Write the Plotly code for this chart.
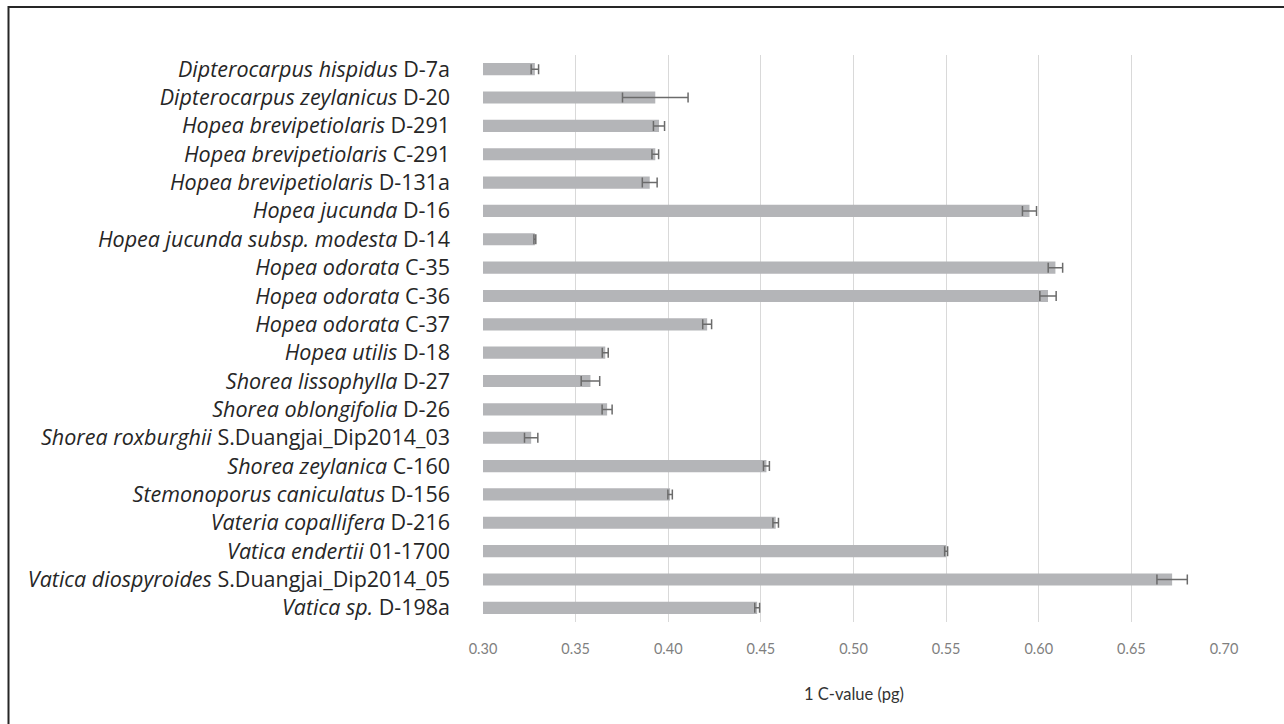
import plotly.graph_objects as go

species = [
    "Dipterocarpus hispidus", "Dipterocarpus zeylanicus", "Hopea brevipetiolaris",
    "Hopea brevipetiolaris", "Hopea brevipetiolaris", "Hopea jucunda",
    "Hopea jucunda subsp. modesta", "Hopea odorata", "Hopea odorata", "Hopea odorata",
    "Hopea utilis", "Shorea lissophylla", "Shorea oblongifolia", "Shorea roxburghii",
    "Shorea zeylanica", "Stemonoporus caniculatus", "Vateria copallifera",
    "Vatica endertii", "Vatica diospyroides", "Vatica sp.",
]
vouchers = [
    "D-7a", "D-20", "D-291", "C-291", "D-131a", "D-16", "D-14", "C-35", "C-36", "C-37",
    "D-18", "D-27", "D-26", "S.Duangjai_Dip2014_03", "C-160", "D-156", "D-216",
    "01-1700", "S.Duangjai_Dip2014_05", "D-198a",
]
values = [0.328, 0.393, 0.395, 0.393, 0.390, 0.595, 0.328, 0.609, 0.605, 0.421,
          0.366, 0.358, 0.367, 0.326, 0.453, 0.401, 0.458, 0.550, 0.672, 0.448]
errors = [0.0020, 0.0177, 0.0030, 0.0018, 0.0040, 0.0038, 0.0005, 0.0039, 0.0044, 0.0024,
          0.0016, 0.0050, 0.0027, 0.0036, 0.0016, 0.0012, 0.0015, 0.0008, 0.0082, 0.0013]
x_ticks = [0.30, 0.35, 0.40, 0.45, 0.50, 0.55, 0.60, 0.65, 0.70]

labels = [f"<i>{s}</i> {v}" for s, v in zip(species, vouchers)]

fig = go.Figure()
fig.add_trace(go.Bar(
    x=values, y=labels, orientation="h",
    marker=dict(color="#b4b5b8", line=dict(width=0)),
    error_x=dict(type="data", array=errors, visible=True, color="#6b6b6b",
                 thickness=1.5, width=5),
    width=0.43,
))

fig.update_layout(
    width=1284, height=724,
    paper_bgcolor="white", plot_bgcolor="white",
    margin=dict(l=483, r=60, t=55, b=102),
    showlegend=False,
    font=dict(family="Open Sans, sans-serif"),
    xaxis=dict(
        range=[0.30, 0.70], tickvals=x_ticks,
        ticktext=[f"{t:.2f}" for t in x_ticks],
        showgrid=True, gridcolor="#d9d9d9", gridwidth=1,
        zeroline=False, showline=False, ticks="",
        tickfont=dict(size=14.5, color="#7f7f7f", family="Lato, sans-serif"),
        ticklabelstandoff=16,
        fixedrange=True,
    ),
    yaxis=dict(
        autorange="reversed", showgrid=False, zeroline=False, showline=False,
        ticks="", ticklen=0,
        tickfont=dict(size=21.5, color="#262626", family="Open Sans, sans-serif"),
        ticklabelstandoff=32,
        fixedrange=True,
    ),
    annotations=[dict(text="1 C-value (pg)", xref="paper", yref="paper",
                      x=0.5, y=(622 - 694) / 567, xanchor="center", yanchor="middle",
                      showarrow=False,
                      font=dict(size=16.5, color="#333333", family="Lato, sans-serif"))],
    shapes=[dict(type="rect", xref="paper", yref="paper",
                 x0=(8.5 - 483) / 741, x1=(1300 - 483) / 741,
                 y0=(622 - 740) / 567, y1=(622 - 7) / 567,
                 line=dict(color="#262626", width=2), fillcolor="rgba(0,0,0,0)",
                 layer="below")],
)

fig.write_html("out.html", config={"displayModeBar": False},
               post_script="document.body.style.margin='0';document.body.style.overflow='hidden';")
